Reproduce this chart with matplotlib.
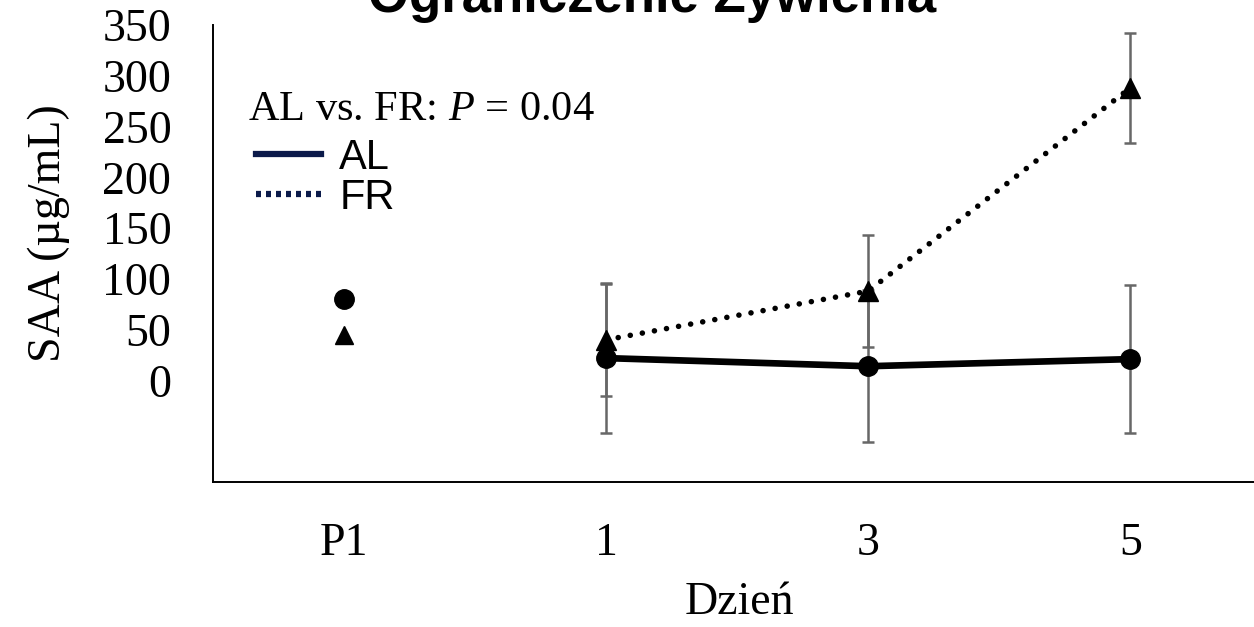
import matplotlib
matplotlib.use("Agg")
import matplotlib.pyplot as plt
from matplotlib.lines import Line2D

# Days on the x axis
categories = ["P1", "1", "3", "5"]

# SAA means (µg/mL) and error bar half-widths
al_p1 = 80
fr_p1 = 45
al_mean = [22, 14, 21]
al_err = [74, 75, 73]
fr_mean = [40, 88, 288]
fr_err = [55, 55, 54]

y_ticks = [0, 50, 100, 150, 200, 250, 300, 350]

serif = ["Liberation Serif", "DejaVu Serif"]
sans = ["Liberation Sans", "DejaVu Sans"]

plt.rcParams["mathtext.fontset"] = "custom"
plt.rcParams["mathtext.it"] = "Liberation Serif:italic"
plt.rcParams["mathtext.rm"] = "Liberation Serif"

fig = plt.figure(figsize=(12.54, 6.27), dpi=100)
ax = fig.add_axes([213 / 1254, 1 - 482 / 627, 1 - 213 / 1254 + 0.01, (482 - 25) / 627])

x_days = [1, 2, 3]

# error bars drawn first so markers sit on top
ax.errorbar(x_days, al_mean, yerr=al_err, fmt="none", ecolor="#676767",
            elinewidth=1.8, capsize=4.5, capthick=1.8, zorder=1)
ax.errorbar(x_days, fr_mean, yerr=fr_err, fmt="none", ecolor="#676767",
            elinewidth=1.8, capsize=4.5, capthick=1.8, zorder=1)

ax.plot(x_days, fr_mean, color="black", linewidth=4.0,
        linestyle=(0, (0.01, 2.2)), dash_capstyle="round",
        marker="^", markersize=14, markerfacecolor="black",
        markeredgecolor="black", zorder=3)
ax.plot(x_days, al_mean, color="black", linewidth=4.8,
        marker="o", markersize=14, markerfacecolor="black",
        markeredgecolor="black", zorder=4)

# baseline (P1) values
ax.plot([0], [al_p1], marker="o", markersize=14, color="black", linestyle="none", zorder=4)
ax.plot([0], [fr_p1], marker="^", markersize=13, color="black", linestyle="none", zorder=3)

ax.set_xlim(-0.5, 3.52)
ax.set_ylim(-100, 350)
ax.set_xticks(range(len(categories)))
ax.set_xticklabels(categories, fontfamily=serif, fontsize=33)
ax.set_yticks(y_ticks)
ax.set_yticklabels([str(v) for v in y_ticks], fontfamily=serif, fontsize=33)
ax.tick_params(axis="both", length=0)
ax.tick_params(axis="x", pad=29)
ax.tick_params(axis="y", pad=30)

for side in ["top", "right"]:
    ax.spines[side].set_visible(False)
for side in ["left", "bottom"]:
    ax.spines[side].set_linewidth(1.4)
    ax.spines[side].set_color("black")

ax.set_xlabel("Dzień", fontfamily=serif, fontsize=33, labelpad=12)
ax.set_ylabel("SAA (µg/mL)", fontfamily=serif, fontsize=33)
ax.yaxis.set_label_coords(-0.136, 0.545)

# statistics note
fig.text(248 / 1254, 1 - 110 / 627, "AL vs. FR: $\\mathit{P}$ = 0.04",
         fontfamily=serif, fontsize=30.5, va="center", ha="left")

handles = [
    Line2D([0], [0], color="#0b1a4a", linewidth=4.5),
    Line2D([0], [0], color="#0b1a4a", linewidth=4.5, linestyle=(0, (0.8, 0.8))),
]
fig.legend(handles, ["AL", "FR"], loc="upper left",
           bbox_to_anchor=(256 / 1254, 1 - 138 / 627),
           frameon=False, prop={"family": sans, "size": 30},
           handlelength=1.55, handletextpad=0.45, labelspacing=0.0,
           borderaxespad=0, borderpad=0)

fig.text(652 / 1254, 1 - 12 / 627, "Ograniczenie Żywienia",
         fontfamily=sans, fontweight="bold", fontsize=38,
         ha="center", va="baseline")

fig.savefig("out.png", dpi=100)
